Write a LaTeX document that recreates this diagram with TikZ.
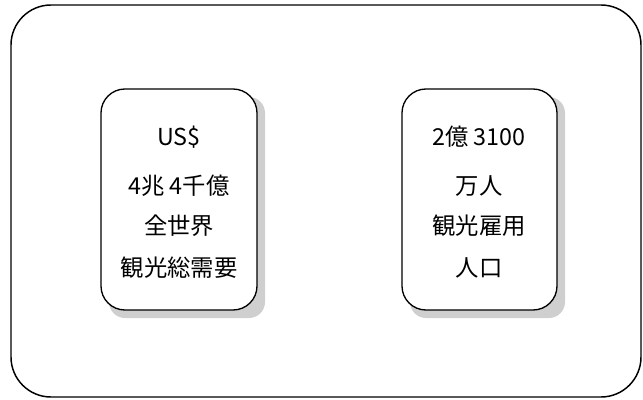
\documentclass[tikz,border=0pt]{standalone}
\usepackage{fontspec}
\setmainfont{Noto Sans CJK JP}
\begin{document}
\begin{tikzpicture}[x=0.75pt,y=-0.75pt,
  frame/.style={draw=black,line width=1.1pt,rounded corners=30pt},
  card/.style={draw=black,line width=1pt,rounded corners=18pt,fill=white},
  shade/.style={fill=gray!38,rounded corners=12pt},
  txt/.style={font=\fontsize{17.5}{20}\selectfont,align=center}]
\useasboundingbox (0,0) rectangle (643,400);
\draw[frame] (11,5) rectangle (641,397);
% left card
\fill[shade] (109,97) rectangle (265,318);
\draw[card] (101,89) rectangle (257,310);
\node[txt] (l1) at (179,137) {US\$};
\node[txt] (l2) at (179,186) {4兆 4千億};
\node[txt] (l3) at (179,226) {全世界};
\node[txt] (l4) at (179,268) {観光総需要};
% right card
\fill[shade] (410,97) rectangle (565,318);
\draw[card] (402,89) rectangle (557,310);
\node[txt] (r1) at (479,137) {2億 3100};
\node[txt] (r2) at (479,186) {万人};
\node[txt] (r3) at (479,226) {観光雇用};
\node[txt] (r4) at (479,268) {人口};
\end{tikzpicture}
\end{document}
